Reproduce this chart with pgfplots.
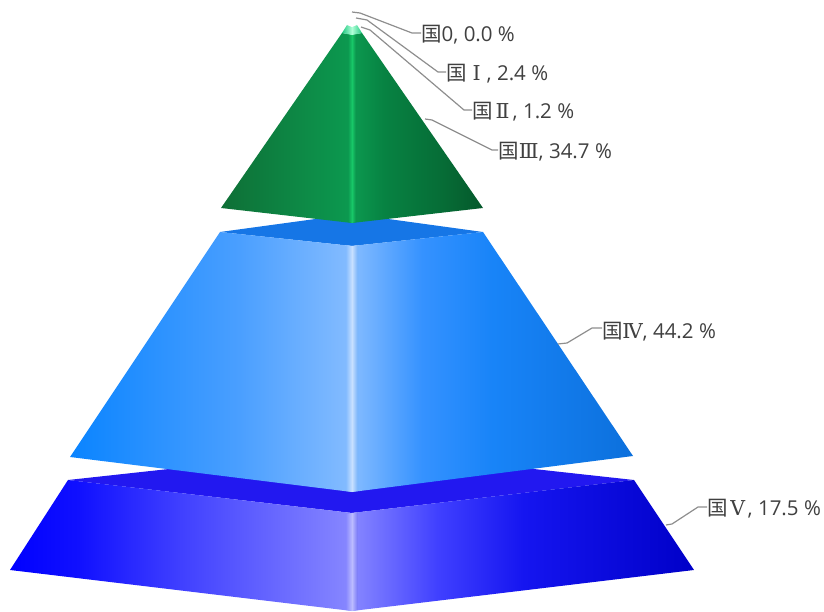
\documentclass[border=0pt]{standalone}
\usepackage{pgfplots}
\pgfplotsset{compat=1.18}
\usepackage{fontspec}
\setmainfont{Open Sans}
\newfontfamily\cjk{Noto Sans CJK SC}
\newfontfamily\rom{DejaVu Serif}
\definecolor{lbl}{HTML}{404040}
\definecolor{ldr}{HTML}{8E8E8E}
\definecolor{gE}{HTML}{0E6F36}
\definecolor{gF}{HTML}{05582B}
\definecolor{gC}{HTML}{0C9A50}
\definecolor{gS}{HTML}{18C868}
\definecolor{gA}{HTML}{078242}
\definecolor{gB}{HTML}{066C36}
\definecolor{bE}{HTML}{0A84FF}
\definecolor{bF}{HTML}{0C70DC}
\definecolor{bC}{HTML}{85BCFF}
\definecolor{bS}{HTML}{C8E0FF}
\definecolor{bT}{HTML}{1676E6}
\definecolor{bA}{HTML}{3592FF}
\definecolor{bB}{HTML}{1884F8}
\definecolor{bL}{HTML}{4A9FFF}
\definecolor{vE}{HTML}{0000FF}
\definecolor{vF}{HTML}{0000C8}
\definecolor{vC}{HTML}{8888FF}
\definecolor{vS}{HTML}{BCBCFF}
\definecolor{vT}{HTML}{2218F0}
\definecolor{vA}{HTML}{4040FF}
\definecolor{vB}{HTML}{1515F0}
\definecolor{vM}{HTML}{1010FF}
\definecolor{cE}{HTML}{20C880}
\definecolor{cM}{HTML}{B0FFD8}
\pgfdeclarehorizontalshading{bR}{100bp}{color(0bp)=(bC);color(25bp)=(bC);color(37.5bp)=(bA);color(50bp)=(bB);color(75bp)=(bF);color(100bp)=(bF)}
\pgfdeclarehorizontalshading{bLs}{100bp}{color(0bp)=(bE);color(25bp)=(bE);color(55bp)=(bL);color(75bp)=(bC);color(100bp)=(bC)}
\pgfdeclarehorizontalshading{vR}{100bp}{color(0bp)=(vC);color(25bp)=(vC);color(37.5bp)=(vA);color(50bp)=(vB);color(75bp)=(vF);color(100bp)=(vF)}
\pgfdeclarehorizontalshading{gR}{100bp}{color(0bp)=(gC);color(25bp)=(gC);color(37.5bp)=(gA);color(60bp)=(gB);color(75bp)=(gF);color(100bp)=(gF)}
\pgfdeclarehorizontalshading{vL}{100bp}{color(0bp)=(vE);color(25bp)=(vE);color(35bp)=(vM);color(50bp)=(vA);color(75bp)=(vC);color(100bp)=(vC)}
\newcommand{\lab}[3]{\node[anchor=west,inner sep=0pt,text=lbl,font=\fontsize{20.5}{22}\selectfont] at (axis cs:#1,#2) {{\cjk 国}#3};}
\newcommand{\rn}[1]{\makebox[20pt]{\rom #1}}
\begin{document}
\begin{tikzpicture}
\begin{axis}[hide axis,scale only axis,width=824pt,height=612pt,xmin=0,xmax=824,ymin=0,ymax=612,y dir=reverse,clip=false]
\addplot[draw=none,forget plot] coordinates {(0,0)(824,612)};
% violet
\addplot[draw=none,fill=vT] coordinates {(68,480)(352,449)(634,480)(352,513)} -- cycle;
\addplot[draw=none,shade,shading=vL] coordinates {(10,570)(68,480)(352,513)(352,611)} -- cycle;
\addplot[draw=none,shade,shading=vR] coordinates {(352,611)(352,513)(634,480)(694,570)} -- cycle;
\addplot[draw=none,left color=vC,right color=vC!85!vF,middle color=vS] coordinates {(346,610)(346,514)(352,513)(358,512)(358,610)(352,611)} -- cycle;
% blue
\addplot[draw=none,fill=bT] coordinates {(220,232)(352,214)(483,232)(352,246)} -- cycle;
\addplot[draw=none,shade,shading=bLs] coordinates {(70,457)(220,232)(352,246)(352,492)} -- cycle;
\addplot[draw=none,shade,shading=bR] coordinates {(352,492)(352,246)(483,232)(633,456)} -- cycle;
\addplot[draw=none,left color=bC,right color=bC!85!bF,middle color=bS] coordinates {(346,491)(346,245)(352,246)(358,245)(358,491)(352,492)} -- cycle;
% green
\addplot[draw=none,left color=gE,right color=gC] coordinates {(221,208)(342,33)(352,35)(352,223)} -- cycle;
\addplot[draw=none,shade,shading=gR] coordinates {(352,223)(352,35)(362,33)(483,208)} -- cycle;
\addplot[draw=none,left color=gC,right color=gC!85!gF,middle color=gS] coordinates {(348,222)(348,34)(352,35)(356,34)(356,222)(352,223)} -- cycle;
\addplot[draw=none,left color=cE,right color=cE,middle color=cM] coordinates {(342,33)(347,25)(357,25)(362,33)(352,35)} -- cycle;
\addplot[draw=none,fill=white] coordinates {(347,25)(352,18)(357,25)(352,27)} -- cycle;
% leaders
\addplot[ldr,line width=1.2pt] coordinates {(352,12)(360,13)(412,33)(421,33)};
\addplot[ldr,line width=1.2pt] coordinates {(356,18)(367,20)(438,72)(446,72)};
\addplot[ldr,line width=1.2pt] coordinates {(361,27)(370,30)(464,110)(472,110)};
\addplot[ldr,line width=1.2pt] coordinates {(425,119)(432,120)(492,150)(498,150)};
\addplot[ldr,line width=1.2pt] coordinates {(558,344)(567,343)(592,328)(602,328)};
\addplot[ldr,line width=1.2pt] coordinates {(666,525)(672,524)(698,507)(707,507)};
% labels
\lab{421}{35}{0, 0.0 \%}
\lab{446}{74}{\rn{Ⅰ}, 2.4 \%}
\lab{472}{112}{\rn{Ⅱ}, 1.2 \%}
\lab{498}{152}{\rn{Ⅲ}, 34.7 \%}
\lab{602}{332}{\rn{Ⅳ}, 44.2 \%}
\lab{707}{509}{\rn{Ⅴ}, 17.5 \%}
\end{axis}
\end{tikzpicture}
\end{document}
